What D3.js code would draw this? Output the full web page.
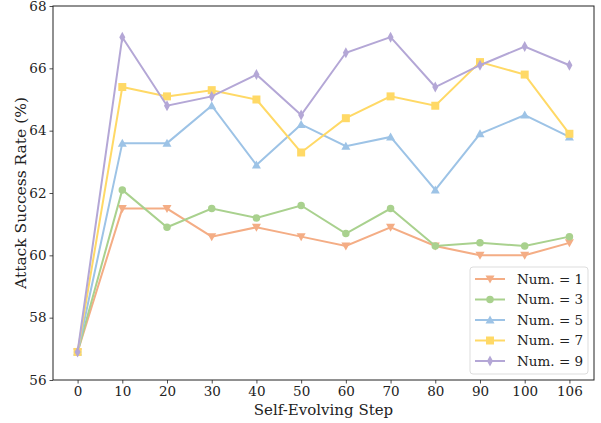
<!DOCTYPE html>
<html>
<head>
<meta charset="utf-8">
<script src="https://cdn.jsdelivr.net/npm/d3@7"></script>
<style>
  html, body { margin: 0; padding: 0; background: #fff; overflow: hidden; }
  svg { display: block; }
  text { font-family: "DejaVu Serif", serif; fill: #222; }
</style>
</head>
<body>
<svg></svg>
<script>
const w = 601
const h = 423

const steps = ['0', '10', '20', '30', '40', '50', '60', '70', '80', '90', '100', '106']
const yTicks = [56, 58, 60, 62, 64, 66, 68]

const num1 = [56.9, 61.5, 61.5, 60.6, 60.9, 60.6, 60.3, 60.9, 60.3, 60.0, 60.0, 60.4]
const num3 = [56.9, 62.1, 60.9, 61.5, 61.2, 61.6, 60.7, 61.5, 60.3, 60.4, 60.3, 60.6]
const num5 = [56.9, 63.6, 63.6, 64.8, 62.9, 64.2, 63.5, 63.8, 62.1, 63.9, 64.5, 63.8]
const num7 = [56.9, 65.4, 65.1, 65.3, 65.0, 63.3, 64.4, 65.1, 64.8, 66.2, 65.8, 63.9]
const num9 = [56.9, 67.0, 64.8, 65.1, 65.8, 64.5, 66.5, 67.0, 65.4, 66.1, 66.7, 66.1]

const series = [
  { name: 'Num. = 1', values: num1, color: '#f4ad85', marker: 'tridown' },
  { name: 'Num. = 3', values: num3, color: '#a9d18e', marker: 'circle' },
  { name: 'Num. = 5', values: num5, color: '#9dc3e6', marker: 'triup' },
  { name: 'Num. = 7', values: num7, color: '#ffd966', marker: 'square' },
  { name: 'Num. = 9', values: num9, color: '#b4a7d6', marker: 'thindiamond' }
]

const svg = d3.select('svg')
  .attr('width', w)
  .attr('height', h)

const margin = { top: 6, right: 7, bottom: 43, left: 53 }
const innerWidth = w - margin.left - margin.right
const innerHeight = h - margin.top - margin.bottom

const xScale = d3.scaleLinear()
  .domain([-0.55, steps.length - 1 + 0.55])
  .range([0, innerWidth])

const yScale = d3.scaleLinear()
  .domain([56, 68])
  .range([innerHeight, 0])

const g = svg.append('g')
  .attr('transform', `translate(${margin.left}, ${margin.top})`)

// marker shapes
const markerPath = (type) => {
  if (type === 'tridown') return 'M-4.5,-3.5L4.5,-3.5L0,4.5Z'
  if (type === 'triup') return 'M-4.5,3.5L4.5,3.5L0,-4.5Z'
  if (type === 'square') return 'M-4,-4L4,-4L4,4L-4,4Z'
  if (type === 'thindiamond') return 'M0,-5.5L3,0L0,5.5L-3,0Z'
  return d3.symbol(d3.symbolCircle, 44)()
}

const line = d3.line()
  .x((d, i) => xScale(i))
  .y(d => yScale(d))

series.forEach(s => {
  const sg = g.append('g')
  sg.append('path')
    .datum(s.values)
    .attr('d', line)
    .attr('fill', 'none')
    .attr('stroke', s.color)
    .attr('stroke-width', 2)
  sg.selectAll('path.mk').data(s.values)
    .enter().append('path')
    .attr('class', 'mk')
    .attr('d', markerPath(s.marker))
    .attr('transform', (d, i) => `translate(${xScale(i)}, ${yScale(d)})`)
    .attr('fill', s.color)
})

// axes
const xAxis = d3.axisBottom(xScale)
  .tickValues(d3.range(steps.length))
  .tickFormat(i => steps[i])
  .tickSize(3.5)
  .tickPadding(3)

const yAxis = d3.axisLeft(yScale)
  .tickValues(yTicks)
  .tickSize(3.5)
  .tickPadding(3)

const xAxisG = g.append('g')
  .attr('transform', `translate(0, ${innerHeight})`)
  .call(xAxis)
const yAxisG = g.append('g').call(yAxis)

;[xAxisG, yAxisG].forEach(a => {
  a.select('.domain').remove()
  a.selectAll('.tick line').attr('stroke', '#222').attr('stroke-width', 0.8)
  a.selectAll('.tick text').attr('font-size', 13.5).attr('font-family', 'DejaVu Serif').attr('fill', '#222')
})

// frame
g.append('rect')
  .attr('width', innerWidth)
  .attr('height', innerHeight)
  .attr('fill', 'none')
  .attr('stroke', '#222')
  .attr('stroke-width', 1)

// axis labels
g.append('text')
  .attr('x', innerWidth / 2)
  .attr('y', innerHeight + 35)
  .attr('text-anchor', 'middle')
  .attr('font-size', 15)
  .text('Self-Evolving Step')

g.append('text')
  .attr('transform', `translate(${-27}, ${innerHeight / 2}) rotate(-90)`)
  .attr('text-anchor', 'middle')
  .attr('font-size', 15.5)
  .text('Attack Success Rate (%)')

// legend
const legend = g.append('g')
  .attr('transform', `translate(${innerWidth - 124}, ${innerHeight - 113})`)

legend.append('rect')
  .attr('width', 118)
  .attr('height', 107)
  .attr('rx', 3)
  .attr('fill', '#fff')
  .attr('fill-opacity', 0.8)
  .attr('stroke', '#ddd')
  .attr('stroke-width', 1)

series.forEach((s, i) => {
  const row = legend.append('g')
    .attr('transform', `translate(0, ${12 + i * 20.5})`)
  row.append('line')
    .attr('x1', 5).attr('x2', 35)
    .attr('stroke', s.color)
    .attr('stroke-width', 2)
  row.append('path')
    .attr('d', markerPath(s.marker))
    .attr('transform', 'translate(20, 0)')
    .attr('fill', s.color)
  row.append('text')
    .attr('x', 47)
    .attr('y', 0)
    .attr('dy', '0.35em')
    .attr('font-size', 13.5)
    .text(s.name)
})
</script>
</body>
</html>
